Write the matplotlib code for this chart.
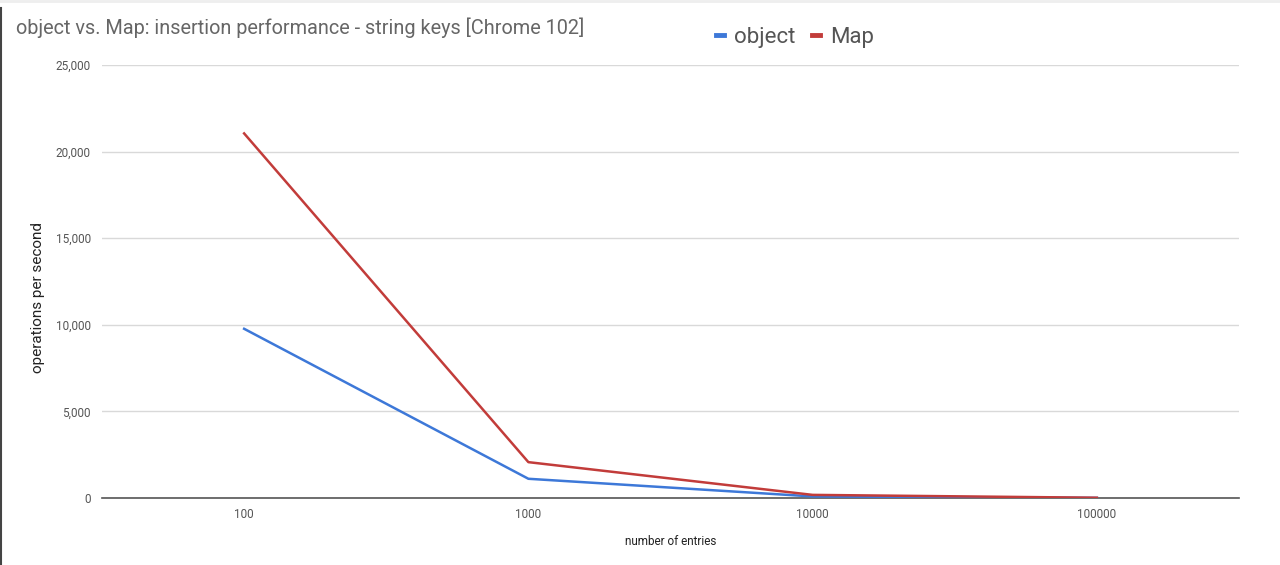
import matplotlib.pyplot as plt
from matplotlib.lines import Line2D
from matplotlib.ticker import FuncFormatter

# -----------------------------
# Data
# -----------------------------
entries = ["100", "1000", "10000", "100000"]
object_ops = [9770, 1110, 90, 8]
map_ops = [21050, 2070, 180, 15]

blue = "#3d78d8"
red = "#c23c3a"

plt.rcParams['font.family'] = ['Roboto', 'DejaVu Sans']

fig = plt.figure(figsize=(12.8, 5.65), dpi=100)
ax = fig.add_axes([102 / 1280, 1 - 498 / 565, (1239 - 102) / 1280, (498 - 65) / 565])

x = list(range(len(entries)))
ax.plot(x, object_ops, color=blue, lw=1.8, zorder=3)
ax.plot(x, map_ops, color=red, lw=1.8, zorder=3)

ax.set_xlim(-0.5, len(entries) - 0.5)
ax.set_ylim(0, 25000)
ax.set_yticks([0, 5000, 10000, 15000, 20000, 25000])
ax.yaxis.set_major_formatter(FuncFormatter(lambda v, p: f"{int(v):,}"))
ax.set_xticks(x)
ax.set_xticklabels(entries)

ax.grid(axis='y', color='#d9d9d9', lw=1)
ax.set_axisbelow(True)
for s in ['top', 'right', 'left']:
    ax.spines[s].set_visible(False)
ax.spines['bottom'].set_color('#555555')
ax.spines['bottom'].set_linewidth(1.2)
ax.tick_params(length=0, labelsize=8.5, labelcolor='#555555')
ax.tick_params(axis='x', pad=7)
ax.tick_params(axis='y', pad=8)

ax.set_xlabel("number of entries", fontsize=8.5, color='#222222', labelpad=10)
ax.set_ylabel("operations per second", fontsize=11, color='#222222')
ax.yaxis.set_label_coords(-0.05, 0.464)

fig.text(16 / 1280, 1 - 28 / 565, "object vs. Map: insertion performance - string keys [Chrome 102]",
         fontsize=14.3, color='#666666', va='center', ha='left')

handles = [Line2D([], [], color=blue, lw=3.5), Line2D([], [], color=red, lw=3.5)]
fig.legend(handles, ["object", "Map"], loc='center', bbox_to_anchor=(795 / 1280, 1 - 37 / 565),
           ncol=2, frameon=False, fontsize=16, handlelength=0.35, handletextpad=0.45,
           columnspacing=0.75, labelcolor='#555555')

# page borders like in the screenshot
fig.add_artist(Line2D([0.0008, 0.0008], [0, 1 - 8 / 565], transform=fig.transFigure, color='#444444', lw=1.5))
fig.add_artist(Line2D([0, 1], [0.998, 0.998], transform=fig.transFigure, color='#eeeeee', lw=2))

fig.savefig("out.png", dpi=100)
